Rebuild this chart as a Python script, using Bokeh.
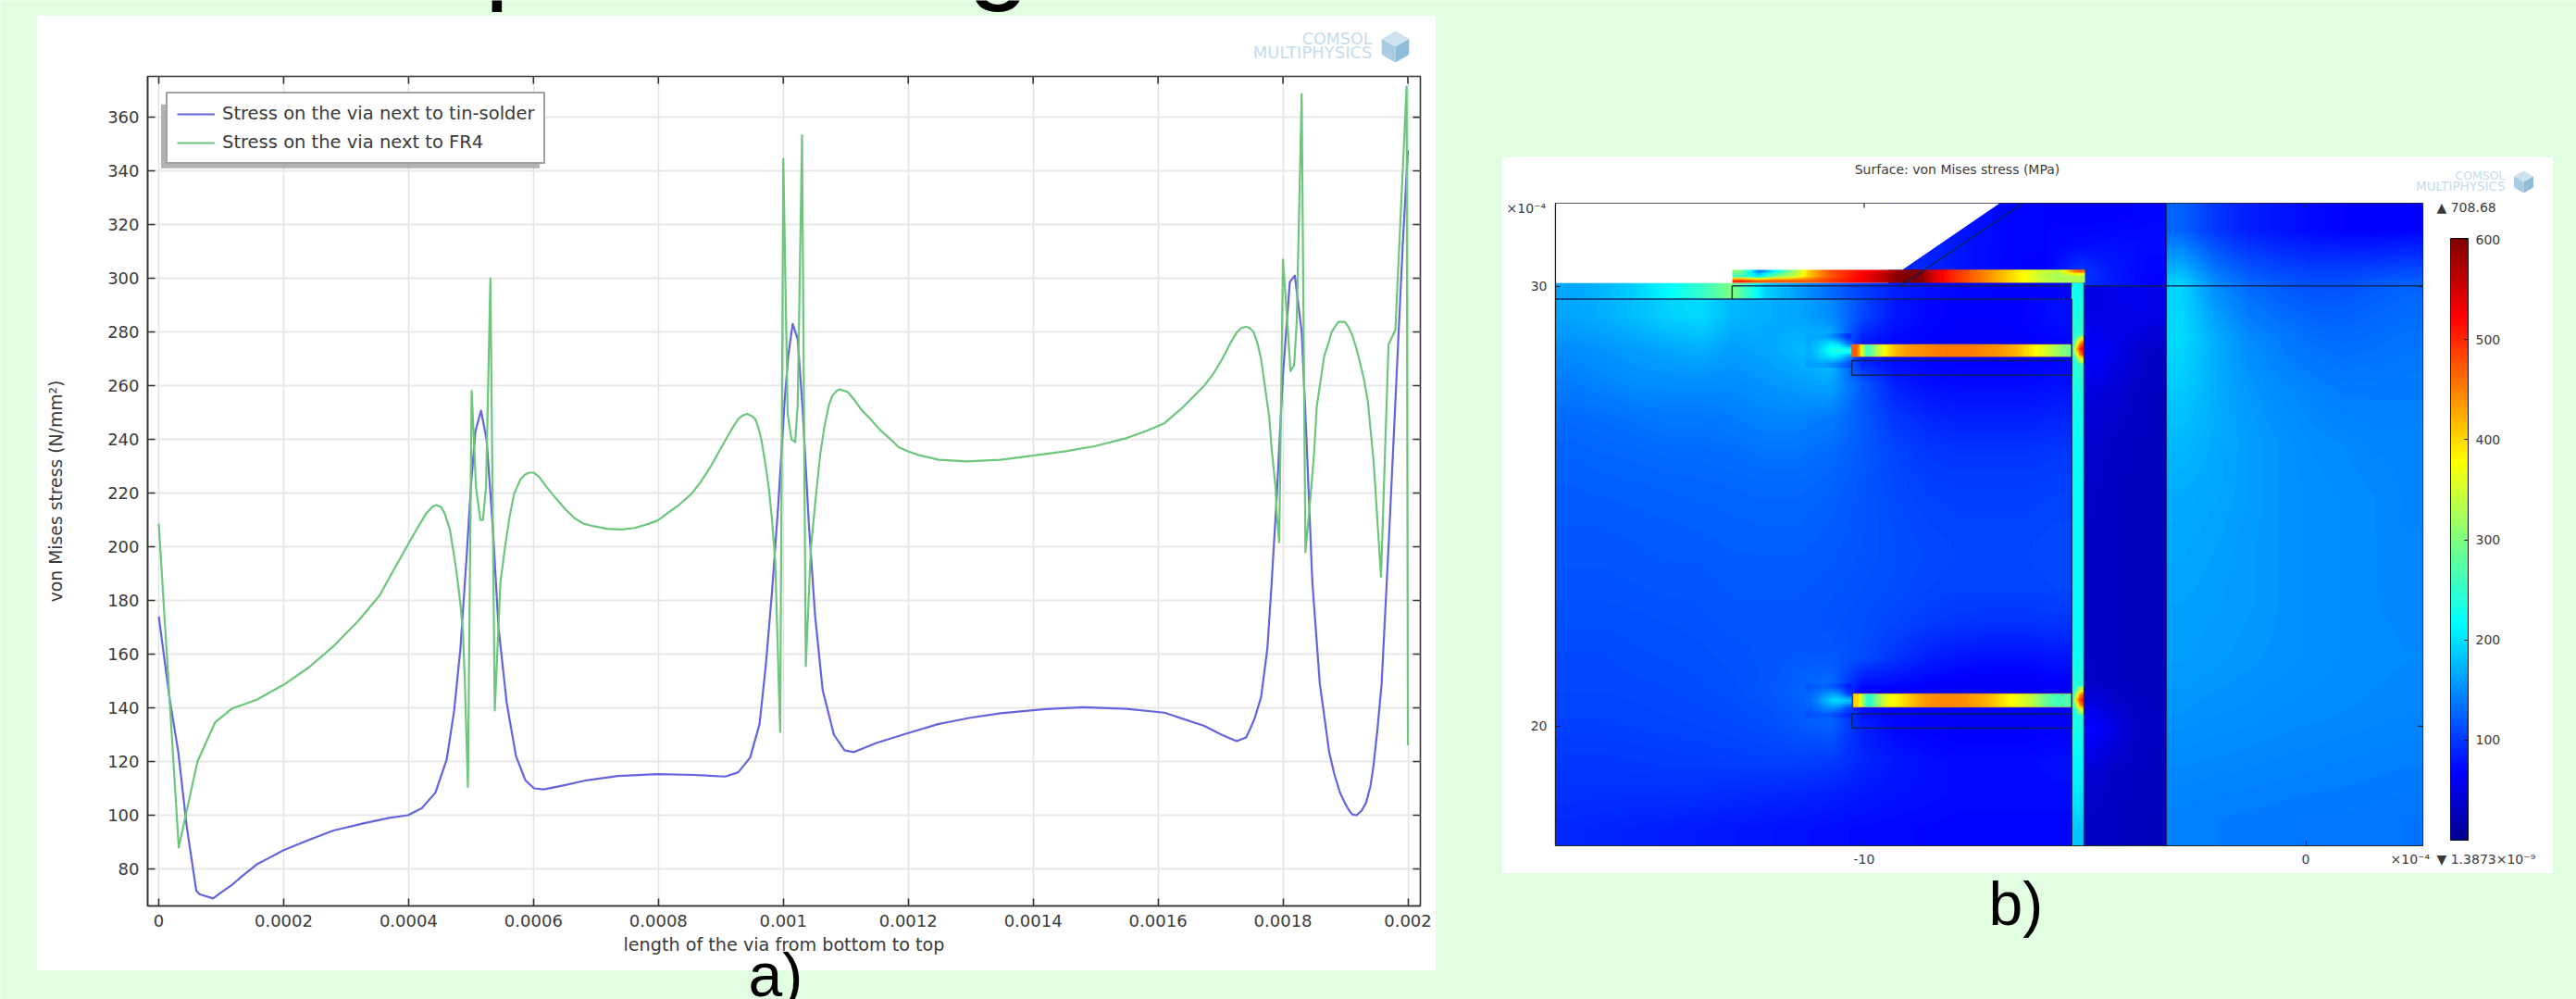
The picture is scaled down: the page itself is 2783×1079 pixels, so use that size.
import numpy as np
from bokeh.core.properties import value
from bokeh.embed import file_html
from bokeh.models import (BoxAnnotation, ColorBar, FixedTicker, Legend, LegendItem,
                          LinearColorMapper, Range1d)
from bokeh.plotting import figure
from bokeh.resources import INLINE

# ---------- panel a data ----------
blue_x = [0, .000018, .000031, .000045, .00006, .000065, .000087, .000102, .000117, .000132, .000157, .000176,
          .0002, .00024, .00028, .000329, .000369, .000399, .000421, .000443, .000461, .000473, .000483, .000493,
          .0005, .000507, .000516, .000525, .000535, .000544, .000557, .000572, .000587, .000601, .000616, .000646,
          .000685, .000735, .000799, .000858, .000907, .000928, .000947, .000962, .000972, .000982, .000992, .001002,
          .001008, .001015, .001023, .001031, .001041, .001051, .001063, .001081, .001098, .001113, .00115, .0012,
          .001249, .001299, .001348, .00142, .00148, .00155, .00161, .001674, .001703, .001726, .001741, .001748,
          .001755, .001765, .001775, .001782, .00179, .0018, .001811, .001819, .00183, .001837, .001847, .001859,
          .001874, .001882, .001891, .001899, .001906, .001911, .001918, .001926, .001933, .00194, .001945, .001951,
          .001958, .00197, .001982, .001992, .002]
blue_y = [174, 142.5, 124, 95.5, 72, 70.6, 69, 71.6, 74, 77, 81.7, 84,
          87, 90.8, 94.3, 97, 99, 100, 102.6, 108.4, 120.7, 139, 162, 196.6,
          223, 243, 250.7, 239.7, 206.5, 170, 142, 122, 113, 110, 109.6, 111,
          113, 114.6, 115.3, 115, 114.4, 116, 121.5, 134, 155.9, 183.5, 215.9, 254,
          271.3, 283, 277.4, 251, 208, 174, 146.6, 130, 124.2, 123.5, 127, 130.6,
          134, 136.3, 138, 139.5, 140.2, 139.6, 138.2, 133.3, 129.8, 127.6, 129, 132.4,
          136.3, 144, 162, 187, 218.5, 264, 298.6, 301, 280, 244, 187, 149,
          123.5, 115.5, 108.6, 104.6, 101.7, 100.3, 100, 101.7, 104.6, 110.7, 118.6, 131.3,
          149, 204.6, 264, 313.4, 347.6]
green_x = [0, .000032, .000062, .00009, .000117, .000157, .0002, .00024, .00028, .00032, .000354, .000369,
           .000399, .000414, .000428, .000438, .000444, .000452, .000458, .000466, .000473, .000478, .000483, .000487,
           .00049, .000495, .000501, .000508, .000515, .000519, .000524, .000531, .000538, .000547, .000555, .000562,
           .000569, .000579, .000586, .000593, .0006, .000609, .000621, .000636, .000651, .000666, .00068, .000695,
           .000718, .00074, .000762, .000784, .000799, .000814, .000833, .000853, .000868, .000883, .000898, .000913,
           .00092, .000928, .000935, .000942, .00095, .000955, .00096, .000965, .000971, .000977, .000982, .000987,
           .000995, .0010, .001007, .001013, .001019, .001023, .00103, .001036, .001044, .001051, .001059, .001066,
           .001073, .001078, .001085, .00109, .001103, .001115, .001125, .00114, .001155, .00117, .001185, .0012,
           .001219, .001249, .001293, .001348, .00145, .0015, .00155, .00158, .00161, .00164, .001674, .001689,
           .001703, .001716, .001726, .001733, .001741, .001747, .001753, .001759, .001765, .001771, .001778, .001782,
           .001788, .00179, .001794, .0018, .001807, .001812, .001818, .001822, .00183, .001836, .001844, .00185,
           .001854, .001861, .001866, .001873, .001878, .001884, .001889, .001899, .001905, .001911, .001917, .001923,
           .00193, .001936, .00194, .001945, .001951, .001957, .001969, .00198, .001998, .002]
green_y = [208.6, 88, 120, 134.5, 139.7, 143, 148.6, 155, 163, 172.5, 182, 188.4,
           200.8, 206.9, 212.3, 214.8, 215.5, 214.8, 212.3, 206.5, 196.6, 188.4, 178.6, 168.6,
           150.5, 110.5, 258, 222, 210, 210, 222, 300, 139, 186.7, 200.8, 211.5,
           219.7, 225, 226.8, 227.6, 227.6, 226, 222.2, 218, 214, 210.6, 208.6, 207.7,
           206.7, 206.4, 207, 208.5, 209.8, 212.4, 215.6, 219.7, 224.2, 229.6, 235.9, 242,
           244.8, 247.6, 248.9, 249.5, 248.6, 247.6, 244.5, 239.7, 231.4, 221.4, 209.8, 195,
           131, 344.5, 249.5, 240, 239, 252.8, 353.3, 155.5, 199, 216, 234.3, 245,
           252.8, 256, 258, 258.6, 257.7, 254.3, 251, 247.4, 243.5, 240.4, 237, 235.5,
           234, 232.4, 231.8, 232.4, 235.5, 237.5, 240.5, 243, 246, 252, 260, 264.6,
           270, 275.9, 279.8, 281.4, 282, 281.4, 280, 275.9, 270, 260, 248.3, 236.3,
           222.5, 212.5, 201.6, 307, 283.8, 265.4, 267.6, 283.8, 368.6, 198, 218.5, 235.3,
           252, 263.1, 271, 275.9, 280, 282.2, 283.8, 283.8, 281.8, 278.8, 274.3, 269,
           262, 254, 244.2, 232.4, 210.6, 188.8, 275.3, 280.8, 371.4, 126]
a_xticks = [0, 0.0002, 0.0004, 0.0006, 0.0008, 0.001, 0.0012, 0.0014, 0.0016, 0.0018, 0.002]
a_xlabels = ["0", "0.0002", "0.0004", "0.0006", "0.0008", "0.001", "0.0012", "0.0014", "0.0016", "0.0018", "0.002"]
a_yticks = [80, 100, 120, 140, 160, 180, 200, 220, 240, 260, 280, 300, 320, 340, 360]

# ---------- panel b data: von Mises stress (MPa), top row first ----------
bar_ticks = [100, 200, 300, 400, 500, 600]
left_field = [
    [165,170,180,190,195,175,170,165,150,110,80,70,66,66,68,75],
    [150,155,160,165,170,160,165,175,185,72,68,66,64,64,64,68],
    [140,145,150,150,150,150,155,160,165,120,85,75,72,72,72,75],
    [130,132,135,138,138,140,145,145,140,120,100,90,85,85,85,88],
    [125,127,128,130,130,132,135,135,130,120,108,100,98,98,98,100],
    [122,123,124,125,126,127,128,128,125,118,110,105,103,103,103,105],
    [120,120,121,122,123,124,125,125,122,118,112,108,106,106,106,108],
    [118,118,119,120,120,122,122,122,120,117,113,110,108,108,108,110],
    [116,116,117,118,118,120,120,120,118,115,112,108,106,106,106,108],
    [113,113,114,115,116,118,118,118,116,113,108,102,98,96,96,98],
    [110,110,112,113,114,116,118,120,120,112,98,85,78,75,75,78],
    [108,108,109,110,112,114,118,125,135,65,65,62,60,60,60,62],
    [105,105,106,107,108,110,112,118,125,85,70,66,64,64,64,66],
    [100,100,101,102,103,104,105,105,102,90,80,74,72,72,72,74],
    [95,95,95,95,94,92,90,88,85,80,76,74,72,72,72,72],
    [90,88,86,84,82,80,78,76,74,72,71,70,69,69,69,69],
]
layer_strip = [[165,175,190,215,250,300,190,160,130,105,85,75,70,68,66,66]]
top_zone = [
    [85,80,75,70,68,66,66,70],
    [90,85,75,70,68,72,75,72],
    [90,85,75,68,66,100,80,68],
]
dark_strip = [
    [50,55,58,55],[66,55,40,32],[45,40,32,28],[38,32,30,28],[34,30,29,28],[32,30,29,28],
    [32,30,29,28],[32,30,29,28],[34,30,29,28],[70,50,35,30],[40,32,30,28],[32,30,28,28],
]
right_zone = [
    [125,100,85,78,72,68,66,68],
    [190,150,130,120,115,115,120,125],
    [195,170,150,140,132,130,132,135],
    [185,170,158,150,145,140,140,140],
    [175,168,160,155,150,148,145,145],
    [168,165,160,155,152,150,148,145],
    [165,162,158,155,152,150,148,146],
    [162,160,158,155,152,150,148,147],
    [160,158,156,154,152,150,149,148],
    [155,153,152,150,149,148,147,146],
    [148,147,146,145,144,143,142,141],
    [142,141,140,139,138,138,137,136],
]
via_strip = [[230,230],[240,250],[240,250],[230,228],[222,222],[220,220],[220,220],[220,220],
             [220,220],[220,220],[222,222],[240,240],[235,235],[215,215],[205,205],[185,185]]
star_upper = [[230,290,350],[260,400,480],[300,470,520],[260,400,480],[230,290,350]]
star_lower = [[230,280,340],[255,390,470],[290,460,510],[255,390,470],[220,280,340]]
tip_upper = [[165,168,165,150,125,95],[168,178,192,205,185,130],[170,185,210,235,240,235],
             [168,178,190,200,190,150],[160,162,160,150,135,115]]
tip_lower = [[118,122,125,120,105,85],[125,135,150,160,145,100],[130,145,170,195,195,190],
             [125,135,148,155,145,110],[115,118,120,115,105,90]]
mid_bar = [[470,250,330,390,420,435,440,445,450,455,455,455,450,445,440,430,420,400,375,350,320,290]]
low_bar = [[400,230,310,370,385,405,425,440,445,445,445,440,430,420,405,385,370,350,320,280,260,270]]
pad = [
    [300,140,220,320,420,480,500,520,550,590,610,540,500,470,440,410,380,350,340,460],
    [260,200,300,340,420,470,500,530,560,600,610,540,500,470,440,410,380,340,320,330],
    [500,470,470,470,470,490,510,530,560,600,610,540,500,470,440,410,380,350,330,330],
]
b_xticks = [-10, 0]
b_yticks = [20, 30]

GREEN_BG = "#e2fee0"
DEJAVU = "DejaVu Sans"
INK = "#3a3a3a"

# ---------- background ----------
bg = figure(width=2783, height=1079, x_axis_type=None, y_axis_type=None, toolbar_location=None,
            output_backend="svg", min_border=0, border_fill_color=GREEN_BG,
            background_fill_color=GREEN_BG, outline_line_color=None,
            x_range=Range1d(0, 2783), y_range=Range1d(1079, 0))
bg.styles = {"position": "absolute", "left": "0px", "top": "0px", "z-index": "0"}


def panel(width, height, left, right, top, bottom, xr, yr, page_left, page_top, edge, edge_width):
    fig = figure(width=width, height=height, x_range=xr, y_range=yr, toolbar_location=None,
                 output_backend="svg", min_border_left=left, min_border_right=right,
                 min_border_top=top, min_border_bottom=bottom, border_fill_color="white",
                 background_fill_color="white", outline_line_color=edge, outline_line_width=edge_width)
    fig.styles = {"position": "absolute", "left": f"{page_left}px", "top": f"{page_top}px", "z-index": "1"}
    return fig


def style_axis(ax, size, tick_in, ink, width):
    ax.major_label_text_font = DEJAVU
    ax.major_label_text_font_size = size
    ax.major_label_text_color = INK
    ax.major_tick_in = tick_in
    ax.major_tick_out = 0
    ax.minor_tick_line_color = None
    ax.axis_line_color = ink
    ax.axis_line_width = width
    ax.major_tick_line_color = ink
    ax.major_tick_line_width = width


def far_ticks(fig, xticks, yticks, x1, y1, dx, dy, ink, width):
    fig.segment(x0=xticks, y0=[y1] * len(xticks), x1=xticks, y1=[y1 - dy] * len(xticks),
                line_color=ink, line_width=width)
    fig.segment(x0=[x1] * len(yticks), y0=yticks, x1=[x1 - dx] * len(yticks), y1=yticks,
                line_color=ink, line_width=width)


# ---------- panel a ----------
AX1, AY1 = 0.00202, 375.2
pa = panel(1512, 1032, 120, 17, 66, 70, Range1d(-1.78e-5, AX1), Range1d(66.2, AY1), 39, 16, "#333333", 1.6)
pa.xaxis.ticker = FixedTicker(ticks=a_xticks)
pa.yaxis.ticker = FixedTicker(ticks=a_yticks)
pa.xaxis.major_label_overrides = dict(zip(a_xticks, a_xlabels))
pa.xaxis.axis_label = "length of the via from bottom to top"
pa.yaxis.axis_label = "von Mises stress (N/mm\u00b2)"
for ax, title_size in ((pa.xaxis[0], "19.2px"), (pa.yaxis[0], "18.8px")):
    style_axis(ax, "18px", 8, "#333333", 1.6)
    ax.major_label_standoff = 9
    ax.axis_label_text_font = DEJAVU
    ax.axis_label_text_font_size = title_size
    ax.axis_label_text_font_style = "normal"
    ax.axis_label_text_color = INK
pa.xaxis.axis_label_standoff = 5
pa.yaxis.axis_label_standoff = 42
pa.xgrid.ticker = FixedTicker(ticks=a_xticks)
pa.ygrid.ticker = FixedTicker(ticks=a_yticks)
pa.xgrid.grid_line_color = "#e2e2e2"
pa.xgrid.grid_line_width = 1.5
pa.ygrid.grid_line_color = "#e8e8e8"
pa.ygrid.grid_line_width = 2
far_ticks(pa, a_xticks, a_yticks, AX1, AY1, 1.19e-5, 2.76, "#333333", 1.6)

blue_line = pa.line(blue_x, blue_y, line_color="#6464dc", line_width=2.2, line_join="round")
green_line = pa.line(green_x, green_y, line_color="#6cc67c", line_width=2.2, line_join="round")

pa.add_layout(BoxAnnotation(left=3.7e-6, right=0.00061, top=364.8, bottom=341, fill_color="#9a9a9a",
                            fill_alpha=0.75, line_color=None, level="annotation"))
legend = Legend(items=[LegendItem(label="Stress on the via next to tin-solder", renderers=[blue_line]),
                       LegendItem(label="Stress on the via next to FR4", renderers=[green_line])],
                location=(20, 801), orientation="vertical", padding=10, margin=0, spacing=8,
                glyph_width=41, glyph_height=22, label_height=22, label_standoff=8,
                label_text_font=DEJAVU, label_text_font_size="19.5px", label_text_color=INK,
                border_line_color="#444444", border_line_width=2, background_fill_color="white",
                background_fill_alpha=1)
pa.add_layout(legend, "center")

# ---------- panel b ----------
X0, X1, Y0, Y1 = -16.99, 2.65, 17.28, 31.89
VIA_L, VIA_R, WALL = -5.30, -5.02, -3.16
mapper = LinearColorMapper(
    low=1.3873e-9, high=601,
    palette=["#%02x%02x%02x" % tuple(int(round(np.interp(t, [0, .111, .36, .5, .63, .87, 1], s)))
                                     for s in ([0, 0, 0, 128, 255, 255, 128],
                                               [0, 0, 255, 255, 255, 0, 0],
                                               [143, 255, 255, 128, 0, 0, 0]))
             for t in np.linspace(0, 1, 256)])
pb = panel(1136, 774, 58, 141, 50, 30, Range1d(X0, X1), Range1d(Y0, Y1), 1622, 169, "#222222", 1.2)
pb.grid.visible = False


def shade(rows, cols_out, rows_out):
    """Gouraud-style shading of a read grid, the way the original surface plot is rendered."""
    grid = np.array(rows, dtype=float)
    fy = np.clip((np.arange(rows_out) + .5) / rows_out * grid.shape[0] - .5, 0, grid.shape[0] - 1)
    fx = np.clip((np.arange(cols_out) + .5) / cols_out * grid.shape[1] - .5, 0, grid.shape[1] - 1)
    by_col = np.array([np.interp(fx, np.arange(grid.shape[1]), row) for row in grid])
    return np.array([np.interp(fy, np.arange(grid.shape[0]), col) for col in by_col.T]).T


def field(rows, x0, x1, y0, y1):
    shaded = shade(rows, max(2, int((x1 - x0) * 47.7 / 1.5)), max(2, int((y1 - y0) * 47.5 / 1.5)))
    pb.image(image=[np.flipud(shaded)], x=x0, y=y0, dw=x1 - x0, dh=y1 - y0, color_mapper=mapper)


field(top_zone, -9.45, WALL, 30.0, Y1)
field(dark_strip, VIA_R, WALL, Y0, 30.01)
field(right_zone, WALL, X1, Y0, Y1)
field(left_field, X0, VIA_L, Y0, 29.71)
field(layer_strip, X0, VIA_L, 29.71, 30.08)
field(tip_upper, -11.33, -10.28, 28.15, 28.93)
field(tip_lower, -11.33, -10.28, 20.19, 20.97)
field(via_strip, VIA_L, VIA_R, Y0, 30.08)
field(star_upper, VIA_L, VIA_R, 28.25, 28.88)
field(star_lower, VIA_L, VIA_R, 20.27, 20.91)
field(mid_bar, -10.28, VIA_L, 28.40, 28.68)
field(low_bar, -10.25, VIA_L, 20.43, 20.74)
field(pad, -12.99, -5.00, 30.08, 30.38)
pb.quad(left=[-10.28, -10.25], right=[VIA_L, VIA_L], bottom=[28.40, 20.43], top=[28.68, 20.74],
        fill_color=None, line_color="#e87a20", line_alpha=0.55, line_width=1)
pb.patch([X0, -6.93, -9.13, -12.99, -12.99, X0], [Y1, Y1, 30.38, 30.38, 30.08, 30.08],
         fill_color="white", line_color=None)
LINE = "#10205a"
pb.multi_line([[X0, VIA_L], [-12.99, VIA_L], [VIA_R, X1], [-12.99, -12.99], [-9.17, -6.41], [WALL, WALL],
               [VIA_L, VIA_L], [VIA_R, VIA_R],
               [-10.28, VIA_L, VIA_L, -10.28, -10.28], [-10.28, VIA_L, VIA_L, -10.28, -10.28]],
              [[29.71, 29.71], [30.01, 30.01], [30.01, 30.01], [29.71, 30.01], [30.01, Y1], [Y0, Y1],
               [Y0, 29.71], [Y0, 30.08],
               [27.98, 27.98, 28.31, 28.31, 27.98], [19.96, 19.96, 20.28, 20.28, 19.96]],
              line_color=LINE, line_width=1.5, line_alpha=0.9)
pb.xaxis.ticker = FixedTicker(ticks=b_xticks)
pb.yaxis.ticker = FixedTicker(ticks=b_yticks)
pb.xaxis.major_label_overrides = {-10: "-10", 0: "0"}
for ax in (pb.xaxis[0], pb.yaxis[0]):
    style_axis(ax, "14px", 5, "#222222", 1.2)
    ax.major_label_standoff = 9
far_ticks(pb, b_xticks, b_yticks, X1, Y1, 0.105, 0.105, "#222222", 1.2)

# ---------- texts and marks laid over the page (page pixels) ----------
ov = figure(width=2783, height=1079, x_axis_type=None, y_axis_type=None, toolbar_location=None,
            output_backend="svg", min_border=0, border_fill_color=None, background_fill_color=None,
            outline_line_color=None, x_range=Range1d(0, 2783), y_range=Range1d(1079, 0))
ov.styles = {"position": "absolute", "left": "0px", "top": "0px", "z-index": "2"}


def write(x, y, txt, size, font=DEJAVU, color=INK, align="left", baseline="middle"):
    ov.text([x], [y], text=[txt], text_font=value(font), text_font_size=value(size), text_color=color,
            text_align=align, text_baseline=baseline)


write(523, -55, "p", "120px", "Liberation Sans", "black", baseline="alphabetic")
write(1045, -55, "g", "120px", "Liberation Sans", "black", baseline="alphabetic")
write(808, 1052, "a)", "66px", "Liberation Sans", "black", baseline="alphabetic")
write(2148, 975, "b)", "66px", "Liberation Sans", "black", baseline="alphabetic")
write(2114, 182, "Surface: von Mises stress (MPa)", "14px", align="center")
write(1627, 224, "\u00d710\u207b\u2074", "14px")
write(2582, 927, "\u00d710\u207b\u2074", "14px")
write(2632, 223, "\u25b2 708.68", "14px")
write(2632, 927, "\u25bc 1.3873\u00d710\u207b\u2079", "14px")

LOGO = "#c4dcea"
for rx, top_y, gap, size_a, size_b, cube in ((1482, 41, 15, "17.5px", "18px", 17),
                                             (2706, 189, 11, "12.5px", "13.5px", 12)):
    write(rx, top_y, "COMSOL", size_a, color=LOGO, align="right")
    write(rx, top_y + gap, "MULTIPHYSICS", size_b, color=LOGO, align="right")
    cx = rx + cube + 8
    cy = top_y + (9 if cube == 17 else 7)
    r = cube
    ov.patches([[cx - r * .87, cx, cx + r * .87, cx, cx - r * .87],
                [cx - r * .87, cx, cx, cx - r * .87],
                [cx + r * .87, cx, cx, cx + r * .87]],
               [[cy - r * .5, cy - r, cy - r * .5, cy, cy - r * .5],
                [cy - r * .5, cy, cy + r, cy + r * .5],
                [cy - r * .5, cy, cy + r, cy + r * .5]],
               fill_color=["#cfe3ef", "#a8cde3", "#8fbcd8"], line_color=None)

bar = ColorBar(color_mapper=mapper, location=(2647, 172), width=19, height=650, padding=0,
               ticker=FixedTicker(ticks=bar_ticks), major_label_text_font=DEJAVU,
               major_label_text_font_size="14px", major_label_text_color=INK, label_standoff=8,
               major_tick_in=4, major_tick_line_color="#111111", minor_tick_line_color=None,
               bar_line_color="#111111", bar_line_width=1, border_line_color=None,
               background_fill_color=None)
ov.add_layout(bar, "center")

open("out.html", "w").write(file_html([bg, pa, pb, ov], INLINE))
